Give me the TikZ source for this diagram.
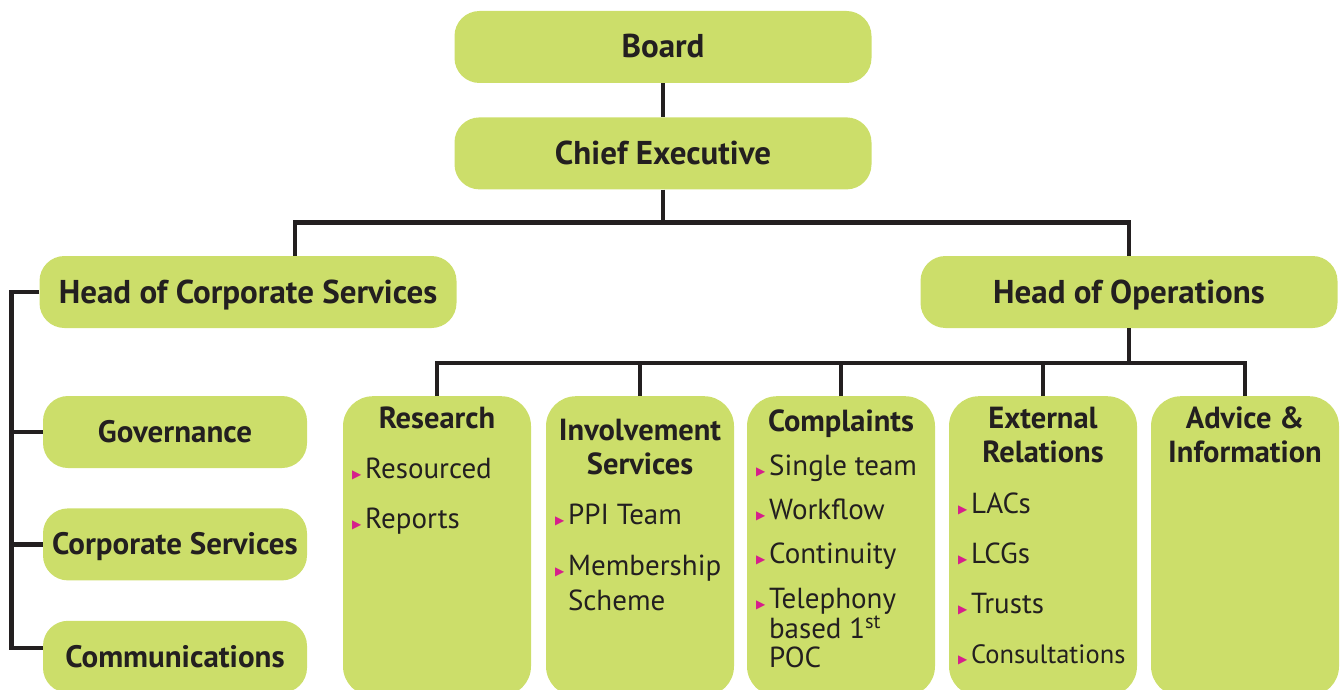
\documentclass[tikz,border=0pt]{standalone}
\usepackage{fontspec}
\setmainfont{PT Sans}
\newfontfamily\symfont{DejaVu Sans}
\usetikzlibrary{positioning}

\definecolor{boxgreen}{RGB}{204,222,106}
\definecolor{linegray}{RGB}{35,31,32}
\definecolor{bulletpink}{RGB}{214,30,140}
\newcommand\itembul{{\color{bulletpink}\symfont\fontsize{12}{12}\selectfont\char"25B6}\hspace{4pt}}

\begin{document}
\begin{tikzpicture}[x=1pt,y=-1pt,
 box/.style={rounded corners=25pt,fill=boxgreen,text=linegray,minimum width=417pt,minimum height=72pt,
   text height=22pt,text depth=0pt,font=\bfseries\fontsize{33}{35}\selectfont},
 unit/.style={box,minimum width=264pt,text height=21pt,font=\bfseries\fontsize{31}{33}\selectfont},
 team/.style={rounded corners=30pt,fill=boxgreen,minimum width=188pt,minimum height=300pt,anchor=north},
 head/.style={anchor=base,inner sep=0pt,text=linegray,font=\bfseries\fontsize{30.5}{32}\selectfont},
 item/.style={anchor=base west,inner sep=0pt,text=linegray,font=\fontsize{29}{31}\selectfont},
 link/.style={draw=linegray,line width=4.5pt}]
 \useasboundingbox (0,0) rectangle (1341,690);

 \node[box](board) at (663,47) {Board};
 \node[box](ceo)[below=34pt of board] {Chief Executive};
 \node[box](hcs) at (248,292) {Head of Corporate Services};
 \node[box](hops) at (1129,292) {Head of Operations};

 % corporate services units
 \node[unit](gov) at (175,432) {Governance};
 \node[unit](corp)[below=40pt of gov] {Corporate Services};
 \node[unit](comm)[below=40pt of corp] {Communications};

 % operations teams
 \foreach \n/\x in {res/437, inv/640, cmp/841, ext/1043, adv/1245}{
     \node[team](\n) at (\x,396) {};}

 \foreach \n/\y/\t in {res/428/Research, inv/440/Involvement, inv/474/Services,
     cmp/431/Complaints, ext/428/External, ext/462/Relations,
     adv/428/{Advice \&}, adv/462/Information}{
     \node[head](\n\y) at (\n.north |- 0,\y) {\t};}

 \foreach \n/\y/\t in {res/478/Resourced, res/528/Reports, inv/524/PPI Team, inv/575/Membership,
     cmp/475/Single team, cmp/519/Workflow, cmp/563/Continuity, cmp/608/Telephony,
     ext/513/LACs, ext/563/LCGs, ext/613/Trusts, ext/663/{\fontsize{26.5}{28}\selectfont Consultations}}{
     \node[item,xshift=9pt](\n\y) at (\n.west |- 0,\y) {\itembul\t};}
 \foreach \n/\y/\t in {inv/610/Scheme, cmp/638/{based 1\textsuperscript{st}}, cmp/667/POC}{
     \node[item,xshift=22pt](\n\y) at (\n.west |- 0,\y) {\t};}

 % lines
 \draw[link] (board) -- (ceo);
 \draw[link] (ceo.south) -- ++(0,33) coordinate (topbus);
 \draw[link] ([xshift=47pt]hcs.north) |- (topbus) -| (hops.north);

 \draw[link] (hcs.west) -- ++(-28,0) coordinate (spine) |- ([yshift=9pt]comm.west);
 \foreach \n in {gov,corp}{
     \draw[link] (\n.west) -- (\n.west -| spine);}

 \draw[link] (hops.south) -- ++(0,35) coordinate (opbus);
 \foreach \n in {res,inv,cmp,ext,adv}{
     \draw[link] (\n.north) |- (opbus);}
\end{tikzpicture}
\end{document}
